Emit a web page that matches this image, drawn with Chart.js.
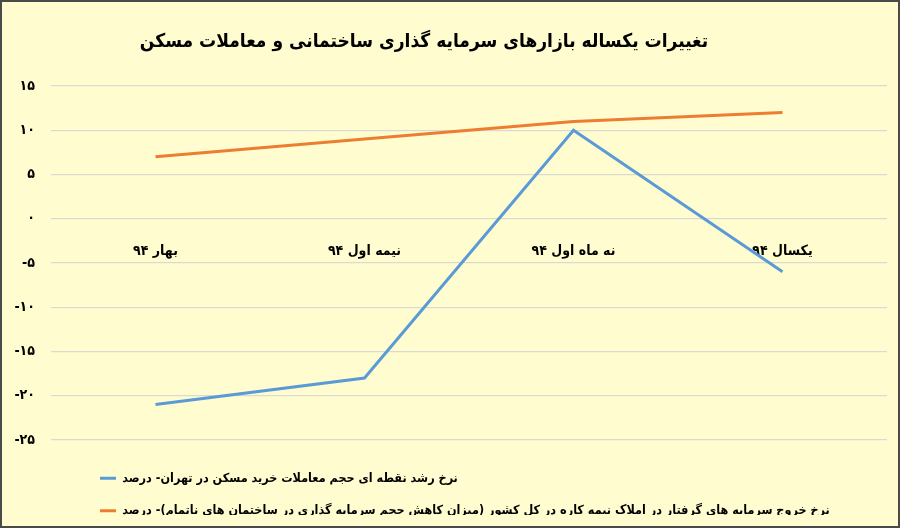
<!DOCTYPE html>
<html lang="fa">
<head>
<meta charset="utf-8">
<script src="https://cdn.jsdelivr.net/npm/chart.js@4.4.1/dist/chart.umd.min.js"></script>
<style>
  html, body { margin: 0; padding: 0; background: #fff; }
  #frame {
    width: 900px; height: 528px; box-sizing: border-box;
    border: 2px solid #4a4a4a; background: #FFFDD0;
  }
  #frame canvas { display: block; }
</style>
</head>
<body>
<div id="frame"><canvas id="lineChart" width="896" height="524"></canvas></div>
<script>
// عنوان و داده ها
const chartTitle = 'تغییرات یکساله بازارهای سرمایه گذاری ساختمانی و معاملات مسکن';
const periods = ['بهار ۹۴', 'نیمه اول ۹۴', 'نه ماه اول ۹۴', 'یکسال ۹۴'];
const tehranDeals = [-21, -18, 10, -6];
const unfinishedOutflow = [7, 9, 11, 12];
const seriesNames = [
    'نرخ رشد نقطه ای حجم معاملات خرید مسکن در تهران- درصد',
    'نرخ خروج سرمایه های گرفتار در املاک نیمه کاره در کل کشور (میزان کاهش حجم سرمایه گذاری در ساختمان های ناتمام)- درصد'
];
const yTicks = [15, 10, 5, 0, -5, -10, -15, -20, -25];
const yTickLabels = ['۱۵', '۱۰', '۵', '۰', '-۵', '-۱۰', '-۱۵', '-۲۰', '-۲۵'];

const FONT = "'DejaVu Sans Condensed', 'DejaVu Sans', sans-serif";

document.addEventListener('DOMContentLoaded', () => {

    // عنوان کمی چپ تر از وسط است
    const titlePlugin = {
        id: 'titleText',
        afterDraw(chart) {
            const ctx = chart.ctx;
            ctx.save();
            ctx.font = 'bold 19px ' + FONT;
            ctx.fillStyle = '#000';
            ctx.textAlign = 'center';
            ctx.textBaseline = 'middle';
            ctx.fillText(chartTitle, 422, 40);
            ctx.restore();
        }
    };

    // راهنما از چپ شروع میشه
    const legendShift = {
        id: 'legendShift',
        afterLayout(chart) {
            const lg = chart.legend;
            lg.left = 78;
            lg.top += 12;
        }
    };

    new Chart(document.getElementById('lineChart'), {
        type: 'line',
        data: {
            labels: periods,
            datasets: [{
                label: seriesNames[0],
                data: tehranDeals,
                borderColor: '#5B9BD5',
                backgroundColor: '#5B9BD5',
                borderWidth: 3,
                pointRadius: 0,
                tension: 0
            }, {
                label: seriesNames[1],
                data: unfinishedOutflow,
                borderColor: '#ED7D31',
                backgroundColor: '#ED7D31',
                borderWidth: 3,
                pointRadius: 0,
                tension: 0
            }]
        },
        options: {
            responsive: false,
            animation: false,
            layout: { padding: { top: 84, right: 11, left: 0, bottom: 11 } },
            plugins: {
                title: { display: false },
                tooltip: { enabled: false },
                legend: {
                    position: 'bottom',
                    align: 'start',
                    labels: {
                        color: '#000',
                        font: { family: FONT, size: 12.5, weight: 'bold' },
                        padding: 20,
                        usePointStyle: true,
                        pointStyle: 'line',
                        pointStyleWidth: 16
                    }
                }
            },
            scales: {
                x: {
                    position: { y: 0 },
                    offset: true,
                    grid: { display: false, drawTicks: false },
                    border: { display: false },
                    ticks: {
                        color: '#000',
                        font: { family: FONT, size: 14, weight: 'bold' },
                        padding: 24,
                        maxRotation: 0
                    }
                },
                y: {
                    min: -25,
                    max: 15,
                    afterBuildTicks(scale) {
                        scale.ticks = yTicks.map(v => ({ value: v }));
                    },
                    afterFit(scale) { scale.width = 49; },
                    grid: { color: '#DADAD2', lineWidth: 1.2, drawTicks: false },
                    border: { display: false },
                    ticks: {
                        color: '#000',
                        font: { family: FONT, size: 14, weight: 'bold' },
                        padding: 16,
                        callback: (v) => yTickLabels[yTicks.indexOf(v)]
                    }
                }
            }
        },
        plugins: [titlePlugin, legendShift]
    });
});
</script>
</body>
</html>
